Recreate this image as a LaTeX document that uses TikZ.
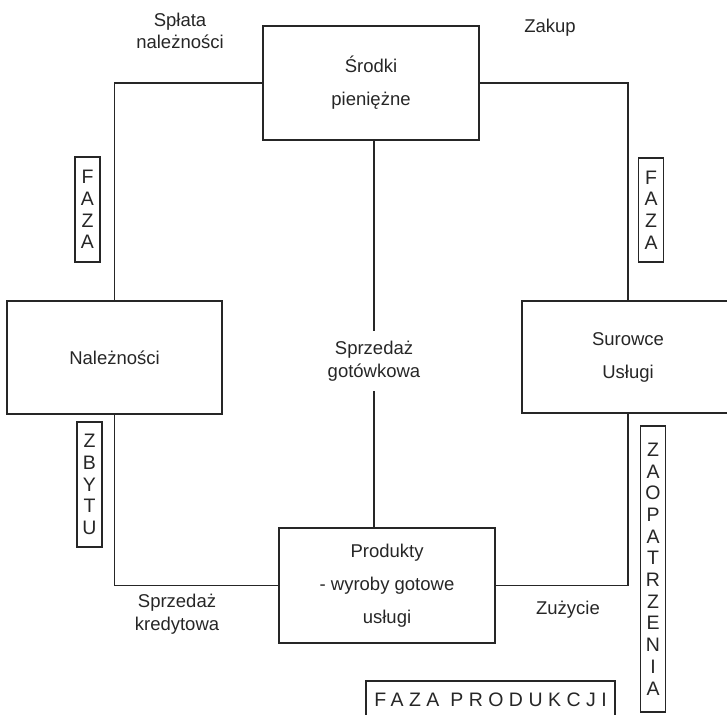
\documentclass[tikz,border=0pt]{standalone}
\usepackage{fontspec}
\setmainfont{Liberation Sans}
\newfontfamily\spacedfont[LetterSpace=28]{Liberation Sans}
\usetikzlibrary{positioning}

\tikzset{
    box/.style = {draw, inner sep = 0pt, align = center, font = \fontsize{18.5}{33}\selectfont},
    faza/.style = {draw, inner sep = 0pt, minimum width = 25pt, align = center, font = \fontsize{19.5}{21.7}\selectfont},
    lbl/.style = {align = center, font = \fontsize{18.5}{22.5}\selectfont}
}

\begin{document}
\begin{tikzpicture}[x = 1pt, y = -1pt, line width = 1.1pt, black!85]

            % \draw [help lines] (0,0) grid (727,714);
            \clip (0,0) rectangle (727,714);

            \path   (371,83) node (srodki) [box, minimum width = 216pt, minimum height = 114pt] {Środki\\pieniężne}
                    (114.5,357.5) node (naleznosci) [box, minimum width = 215pt, minimum height = 113pt] {Należności}
                    (628,357) node (surowce) [box, minimum width = 212pt, minimum height = 112pt] {Surowce\\Usługi}
                    (387,585.5) node (produkty) [box, minimum width = 216pt, minimum height = 115pt] {Produkty\\- wyroby gotowe\\usługi};

            \path   (180,31) node (splata) [lbl] {Spłata\\należności}
                    (550,28) node (zakup) [lbl] {Zakup}
                    (374,361) node (gotowkowa) [lbl, inner ysep = 10pt] {Sprzedaż\\gotówkowa}
                    (177,614) node (kredytowa) [lbl] {Sprzedaż\\kredytowa}
                    (568,610) node (zuzycie) [lbl] {Zużycie};

            \path   (87.5,209.5) node (fazaL) [faza, minimum height = 105pt] {F\\A\\Z\\A}
                    (651,210) node (fazaP) [faza, minimum height = 104pt] {F\\A\\Z\\A}
                    (89.5,484.5) node (zbytu) [faza, minimum height = 125pt] {Z\\B\\Y\\T\\U}
                    (653,569) node (zaopatrzenia) [faza, minimum height = 286pt] {Z\\A\\O\\P\\A\\T\\R\\Z\\E\\N\\I\\A}
                    (490.5,700) node (produkcja) [draw, inner sep = 0pt, minimum width = 249pt, minimum height = 38pt, font = \fontsize{19.5}{22}\spacedfont] {FAZA PRODUKCJI};

            \draw (srodki.west) -| (naleznosci.north);
            \draw (srodki.east) -| (surowce.north);
            \draw (naleznosci.south) |- (produkty.west);
            \draw (surowce.south) |- (produkty.east);
            \draw (srodki.south -| gotowkowa.north) -- (gotowkowa.north);
            \draw (gotowkowa.south) -- (gotowkowa.south |- produkty.north);

\end{tikzpicture}
\end{document}
